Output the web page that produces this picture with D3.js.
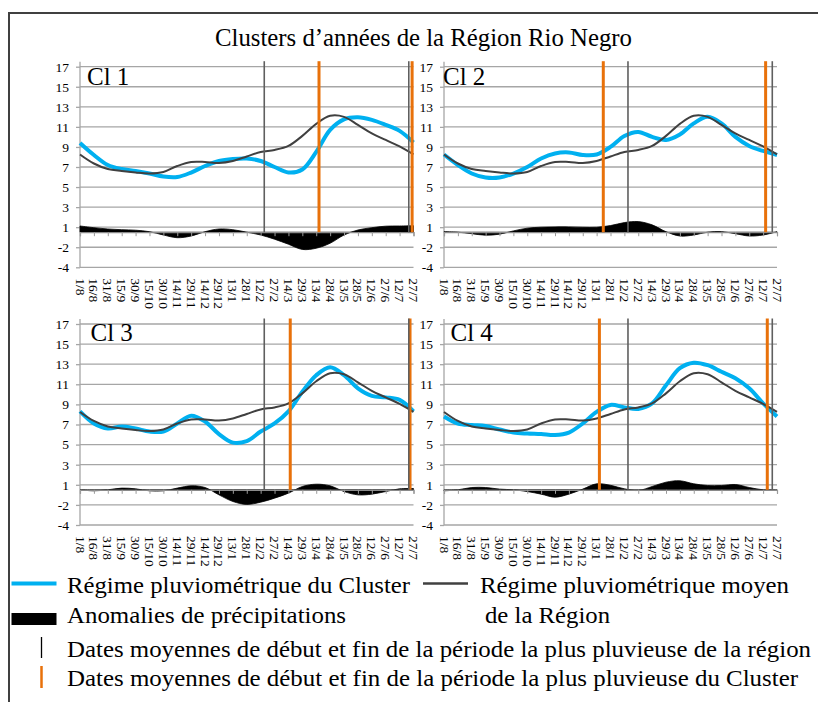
<!DOCTYPE html>
<html><head><meta charset="utf-8">
<script src="https://cdn.jsdelivr.net/npm/d3@7"></script>
<style>
html,body{margin:0;padding:0;background:#fff;}
svg{display:block;}
text{font-family:"Liberation Serif","Times New Roman",serif;fill:#000;}
</style></head>
<body>
<script>
// ---------- DATA ----------
const categories = ["1/8","16/8","31/8","15/9","30/9","15/10","30/10","14/11","29/11","14/12","29/12","13/1","28/1","12/2","27/2","14/3","29/3","13/4","28/4","13/5","28/5","12/6","27/6","12/7","27/7"];
const yTickPositions = [17,15,13,11,9,7,5,3,1,-1,-3];
const yTickLabels = ["17","15","13","11","9","7","5","3","1","-2","-4"];
const clusterNames = ["Cl 1","Cl 2","Cl 3","Cl 4"];

const regionRegime = [8.25,7.35,6.8,6.6,6.45,6.35,6.5,7.1,7.5,7.5,7.4,7.6,8.05,8.5,8.7,9.1,10.1,11.3,12.1,12.0,11.2,10.35,9.7,9.05,8.25];

const cluster1 = [9.4,8.2,7.2,6.8,6.6,6.35,6.05,6.0,6.45,7.1,7.6,7.8,7.85,7.6,7.0,6.45,6.75,8.5,10.7,11.75,11.95,11.7,11.2,10.6,9.45];
const cluster2 = [8.25,7.2,6.35,5.95,5.95,6.35,7.0,7.85,8.35,8.45,8.2,8.25,9.0,10.1,10.5,10.0,9.7,10.25,11.35,12.0,11.35,10.0,9.1,8.6,8.2];
const cluster3 = [8.3,7.1,6.6,6.8,6.6,6.3,6.3,7.1,7.88,7.3,6.05,5.2,5.35,6.3,7.1,8.3,10.25,11.9,12.7,11.9,10.6,9.85,9.7,9.45,8.3];
const cluster4 = [7.8,7.1,6.95,6.85,6.5,6.2,6.1,6.05,5.95,6.2,7.1,8.25,8.95,8.7,8.55,9.1,10.9,12.6,13.15,12.9,12.25,11.6,10.6,9.1,7.8];

const anomaly1 = [0.62,0.45,0.32,0.25,0.2,0.05,-0.28,-0.55,-0.38,0.05,0.32,0.25,0,-0.28,-0.7,-1.2,-1.72,-1.6,-1.1,-0.28,0.22,0.45,0.6,0.62,0.65];
const anomaly2 = [0.05,0,-0.15,-0.3,-0.2,0.13,0.4,0.5,0.53,0.53,0.5,0.5,0.66,0.96,1.06,0.73,0.05,-0.38,-0.28,0,0.05,-0.15,-0.38,-0.28,0.05];
const anomaly3 = [0,-0.1,0,0.17,0.1,-0.1,-0.1,0.17,0.4,0.23,-0.5,-1.16,-1.45,-1.23,-0.83,-0.33,0.33,0.56,0.4,-0.17,-0.5,-0.43,-0.17,0.1,0.13];
const anomaly4 = [-0.1,0,0.23,0.23,0.07,0,-0.17,-0.43,-0.73,-0.43,0.07,0.6,0.45,0.1,-0.07,0.33,0.76,0.9,0.6,0.43,0.43,0.53,0.23,0,-0.07];

// wettest period start / end, as fractional position on the date axis
const regionWet = [13.26, 23.66];
const clusterWet = [[17.2, 23.9],[11.48, 23.18],[15.13, 23.75],[11.2, 23.3]];

const clusterSeries = [cluster1, cluster2, cluster3, cluster4];
const anomalySeries = [anomaly1, anomaly2, anomaly3, anomaly4];

const titleText = "Clusters d\u2019années de la Région Rio Negro";
const legendTexts = ["Régime pluviométrique du Cluster","Régime pluviométrique moyen","de la Région","Anomalies de précipitations","Dates moyennes de début et fin de la période la plus pluvieuse de la région","Dates moyennes de début et fin de la période la plus pluvieuse du Cluster"];

// ---------- LAYOUT ----------
const W = 818, H = 702;
const BLUE = "#00b0f0", DARK = "#404040", GRID = "#a6a6a6", ORANGE = "#e8710a", VGREY = "#5f5f5f";
const panels = [
  {x0:80, x1:413.5, yT:66.7, yB:267.3, lx:87, ly:85},
  {x0:444, x1:777, yT:66.7, yB:267.3, lx:443, ly:85},
  {x0:80, x1:413.5, yT:324, yB:525, lx:90.5, ly:340.7},
  {x0:444, x1:777, yT:324, yB:525, lx:450.5, ly:340.7}
];

const svg = d3.select("body").append("svg").attr("width", W).attr("height", H);

// frame
svg.append("path").attr("d", `M9,${H} L9,13 L${W},13`).attr("fill","none").attr("stroke","#404040").attr("stroke-width",2);

svg.append("text").attr("x", 423.5).attr("y", 46).attr("text-anchor","middle")
  .attr("font-size", 25).attr("textLength", 417).attr("lengthAdjust","spacingAndGlyphs").text(titleText);

panels.forEach((p, k) => {
  const g = svg.append("g");
  const x = d3.scalePoint().domain(categories).range([p.x0, p.x1]);
  const xi = d3.scaleLinear().domain([0, categories.length - 1]).range([p.x0, p.x1]);
  const y = d3.scaleLinear().domain([-3, 17]).range([p.yB, p.yT]);
  const yA = d3.scaleLinear().domain([-3.5, 16.5]).range([p.yB, p.yT]);

  // gridlines
  g.append("g").selectAll("line").data(yTickPositions).join("line")
    .attr("x1", p.x0).attr("x2", p.x1)
    .attr("y1", d => y(d)).attr("y2", d => y(d))
    .attr("stroke", GRID).attr("stroke-width", 1.3);

  // y axis
  const ax = g.append("g").attr("transform", `translate(${p.x0},0)`)
    .call(d3.axisLeft(y).tickValues(yTickPositions).tickFormat((d,i) => yTickLabels[i]).tickSize(4).tickPadding(7));
  ax.select(".domain").remove();
  ax.selectAll(".tick line").attr("stroke", GRID).attr("stroke-width", 1.3);
  ax.selectAll(".tick text").attr("font-family", '"Liberation Serif","Times New Roman",serif').attr("font-size", 13.5).attr("fill", "#000");
  g.append("line").attr("x1", p.x0).attr("x2", p.x0).attr("y1", p.yT - 5).attr("y2", p.yB)
    .attr("stroke", GRID).attr("stroke-width", 1.3);

  // anomaly area
  const area = d3.area().x((d,i) => x(categories[i])).y0(yA(0)).y1(d => yA(d)).curve(d3.curveCatmullRom.alpha(0.5));
  g.append("path").datum(anomalySeries[k]).attr("d", area).attr("fill", "#000").attr("stroke","#000").attr("stroke-width",0.8);

  // baseline category axis
  const bx = g.append("g").attr("transform", `translate(0,${yA(0)})`)
    .call(d3.axisBottom(x).tickSize(4).tickFormat(""));
  bx.select(".domain").attr("stroke", "#8a8a8a").attr("stroke-width", 1.2);
  bx.selectAll(".tick line").attr("stroke", "#9a9a9a").attr("stroke-width", 1);

  // rotated category labels
  g.append("g").selectAll("text").data(categories).join("text")
    .attr("transform", d => `translate(${x(d)},${p.yB + 11}) rotate(90)`)
    .attr("dy", "0.33em").attr("font-size", 13.5).text(d => d);

  // curves
  const line = d3.line().x((d,i) => x(categories[i])).y(d => y(d)).curve(d3.curveCatmullRom.alpha(0.5));
  g.append("path").datum(clusterSeries[k]).attr("d", line).attr("fill","none")
    .attr("stroke", BLUE).attr("stroke-width", 4);
  g.append("path").datum(regionRegime).attr("d", line).attr("fill","none")
    .attr("stroke", DARK).attr("stroke-width", 2);

  // wettest period lines
  g.append("g").selectAll("line").data(clusterWet[k]).join("line")
    .attr("x1", d => xi(d)).attr("x2", d => xi(d)).attr("y1", p.yT - 5.5).attr("y2", yA(0))
    .attr("stroke", ORANGE).attr("stroke-width", 3);
  g.append("g").selectAll("line").data(regionWet).join("line")
    .attr("x1", d => xi(d)).attr("x2", d => xi(d)).attr("y1", p.yT - 5.5).attr("y2", yA(0))
    .attr("stroke", VGREY).attr("stroke-width", 1.6);

  // panel label
  g.append("text").attr("x", p.lx).attr("y", p.ly).attr("font-size", 25).text(clusterNames[k]);
});

// ---------- LEGEND ----------
const lg = svg.append("g");
lg.append("line").attr("x1", 11.5).attr("x2", 56.5).attr("y1", 583.5).attr("y2", 583.5).attr("stroke", BLUE).attr("stroke-width", 4);
lg.append("line").attr("x1", 423).attr("x2", 468).attr("y1", 583.5).attr("y2", 583.5).attr("stroke", DARK).attr("stroke-width", 2.5);
lg.append("rect").attr("x", 11.5).attr("y", 613).attr("width", 45).attr("height", 12).attr("fill", "#000");
lg.append("line").attr("x1", 41.5).attr("x2", 41.5).attr("y1", 637).attr("y2", 658).attr("stroke", "#000").attr("stroke-width", 1.3);
lg.append("line").attr("x1", 41.5).attr("x2", 41.5).attr("y1", 666).attr("y2", 688).attr("stroke", ORANGE).attr("stroke-width", 2.5);

const legendPos = [[67,593],[480,593],[485,623],[67,623],[67,656.5],[67,686]];
const legendWidths = [343,309,125,279,744,731];
lg.selectAll("text").data(legendTexts).join("text")
  .attr("x", (d,i) => legendPos[i][0]).attr("y", (d,i) => legendPos[i][1])
  .attr("font-size", 23.5)
  .attr("textLength", (d,i) => legendWidths[i]).attr("lengthAdjust","spacingAndGlyphs")
  .text(d => d);
</script>
</body></html>
